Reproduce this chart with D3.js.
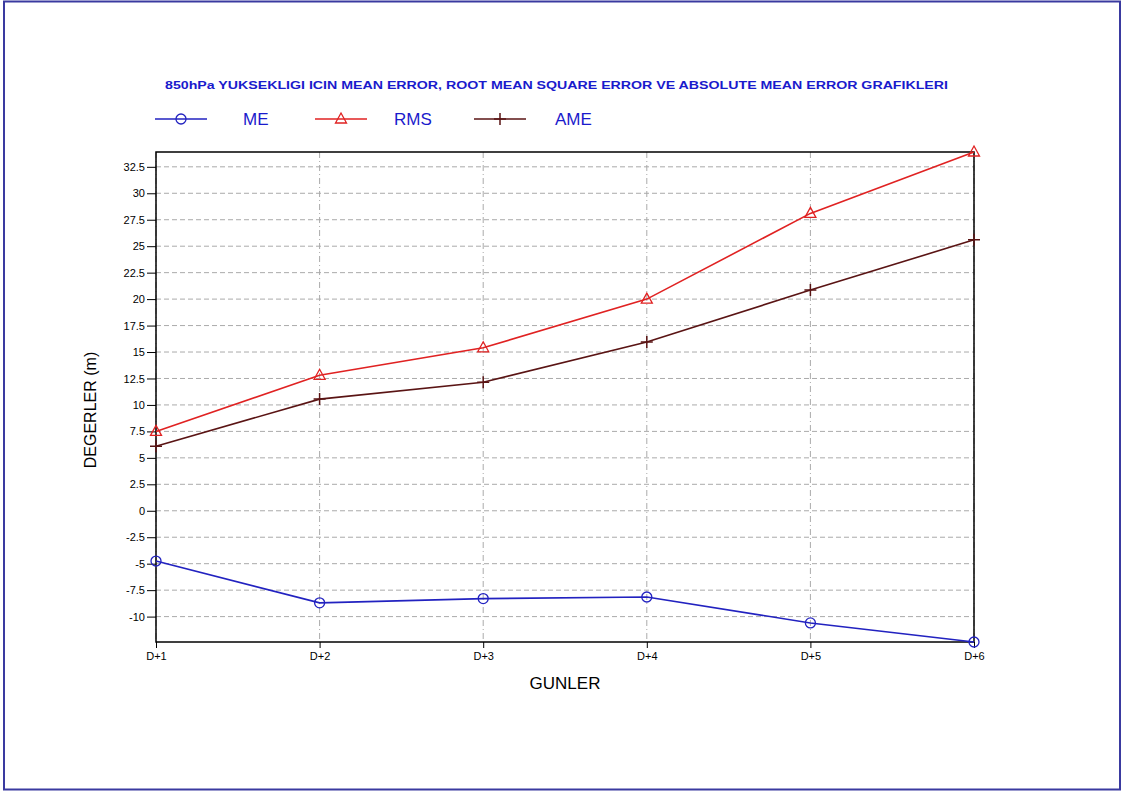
<!DOCTYPE html>
<html><head><meta charset="utf-8">
<script src="https://cdn.jsdelivr.net/npm/d3@7"></script>
<style>body{margin:0;background:#fff;} svg{display:block;}</style>
</head><body>
<svg id="c" width="1123" height="794"></svg>
<script>
const categories = ["D+1","D+2","D+3","D+4","D+5","D+6"];
const meValues  = [-4.75, -8.7, -8.3, -8.15, -10.6, -12.4];
const rmsValues = [7.5, 12.8, 15.4, 20.0, 28.1, 33.9];
const ameValues = [6.1, 10.55, 12.15, 15.95, 20.85, 25.6];
const yTicks = [-10,-7.5,-5,-2.5,0,2.5,5,7.5,10,12.5,15,17.5,20,22.5,25,27.5,30,32.5];
const titleText = "850hPa YUKSEKLIGI ICIN MEAN ERROR, ROOT MEAN SQUARE ERROR VE ABSOLUTE MEAN ERROR GRAFIKLERI";
const seriesNames = ["ME","RMS","AME"];

const svg = d3.select("#c");
svg.append("rect").attr("x",4).attr("y",1.5).attr("width",1116).attr("height",788)
  .attr("fill","#fff").attr("stroke","#3a3aa0").attr("stroke-width",2);

const L=156,R=974,T=152,B=642;
const x = d3.scalePoint().domain(categories).range([L,R]);
const y = d3.scaleLinear().domain([-12.4,33.9]).range([B,T]);

// grid
const g = svg.append("g");
g.selectAll("line.h").data(yTicks).join("line")
  .attr("x1",L).attr("x2",R).attr("y1",d=>y(d)).attr("y2",d=>y(d))
  .attr("stroke","#aaa").attr("stroke-width",1).attr("stroke-dasharray","5,3");
g.selectAll("line.v").data(categories).join("line")
  .attr("x1",d=>x(d)).attr("x2",d=>x(d)).attr("y1",T).attr("y2",B)
  .attr("stroke","#aaa").attr("stroke-width",1).attr("stroke-dasharray","6,3,1,3");

// axes
const yAxis = d3.axisLeft(y).tickValues(yTicks).tickSize(9).tickPadding(2)
  .tickFormat(d=>String(d));
const ya = svg.append("g").attr("transform",`translate(${L},0)`).call(yAxis);
ya.select(".domain").remove();
ya.selectAll("text").attr("font-family","Liberation Sans, Arial, sans-serif").attr("font-size",11).attr("fill","#000");
ya.selectAll("line").attr("stroke","#000");
const xAxis = d3.axisBottom(x).tickSize(6).tickPadding(4);
const xa = svg.append("g").attr("transform",`translate(0,${B})`).call(xAxis);
xa.select(".domain").remove();
xa.selectAll("text").attr("font-family","Liberation Sans, Arial, sans-serif").attr("font-size",11).attr("fill","#000");
xa.selectAll("line").attr("stroke","#000");

svg.append("rect").attr("x",L).attr("y",T).attr("width",R-L).attr("height",B-T)
  .attr("fill","none").attr("stroke","#000").attr("stroke-width",1.5);

const colors = {ME:"#2222c0", RMS:"#e02222", AME:"#5a1414"};
const data = {ME:meValues, RMS:rmsValues, AME:ameValues};
const line = d3.line().x((d,i)=>x(categories[i])).y(d=>y(d));

function marker(sel, name, cx, cy){
  const c = colors[name];
  if(name==="ME"){
    sel.append("circle").attr("cx",cx).attr("cy",cy).attr("r",5).attr("fill","none").attr("stroke",c).attr("stroke-width",1.3);
  } else if(name==="RMS"){
    sel.append("path").attr("d",`M${cx},${cy-6}L${cx+5.5},${cy+4}L${cx-5.5},${cy+4}Z`).attr("fill","none").attr("stroke",c).attr("stroke-width",1.3);
  } else {
    sel.append("path").attr("d",`M${cx-6},${cy}H${cx+6}M${cx},${cy-6}V${cy+6}`).attr("stroke",c).attr("stroke-width",1.5);
  }
}

const plot = svg.append("g");
seriesNames.forEach(n=>{
  plot.append("path").datum(data[n]).attr("d",line).attr("fill","none")
    .attr("stroke",colors[n]).attr("stroke-width",1.6);
  data[n].forEach((v,i)=>marker(plot,n,x(categories[i]),y(v)));
});

// title
svg.append("text").attr("x",165).attr("y",89).text(titleText)
  .attr("font-family","Liberation Sans, Arial, sans-serif").attr("font-size",10.5).attr("font-weight","bold")
  .attr("fill","#1a1acc").attr("textLength",783).attr("lengthAdjust","spacingAndGlyphs");

// legend
const legX = [{lx:155,tx:243},{lx:315,tx:394},{lx:474,tx:555}];
seriesNames.forEach((n,i)=>{
  const ly=119;
  svg.append("line").attr("x1",legX[i].lx).attr("x2",legX[i].lx+52).attr("y1",ly).attr("y2",ly)
    .attr("stroke",colors[n]).attr("stroke-width",1.6);
  marker(svg,n,legX[i].lx+26,ly);
  svg.append("text").attr("x",legX[i].tx).attr("y",ly+6).text(n)
    .attr("font-family","Liberation Sans, Arial, sans-serif").attr("font-size",17).attr("fill","#1a1acc");
});

// axis titles
svg.append("text").attr("x",565).attr("y",689).attr("text-anchor","middle").text("GUNLER")
  .attr("font-family","Liberation Sans, Arial, sans-serif").attr("font-size",17).attr("fill","#000");
svg.append("text").attr("transform","translate(96,410) rotate(-90)").attr("text-anchor","middle").text("DEGERLER (m)")
  .attr("font-family","Liberation Sans, Arial, sans-serif").attr("font-size",16).attr("fill","#000");
</script>
</body></html>
